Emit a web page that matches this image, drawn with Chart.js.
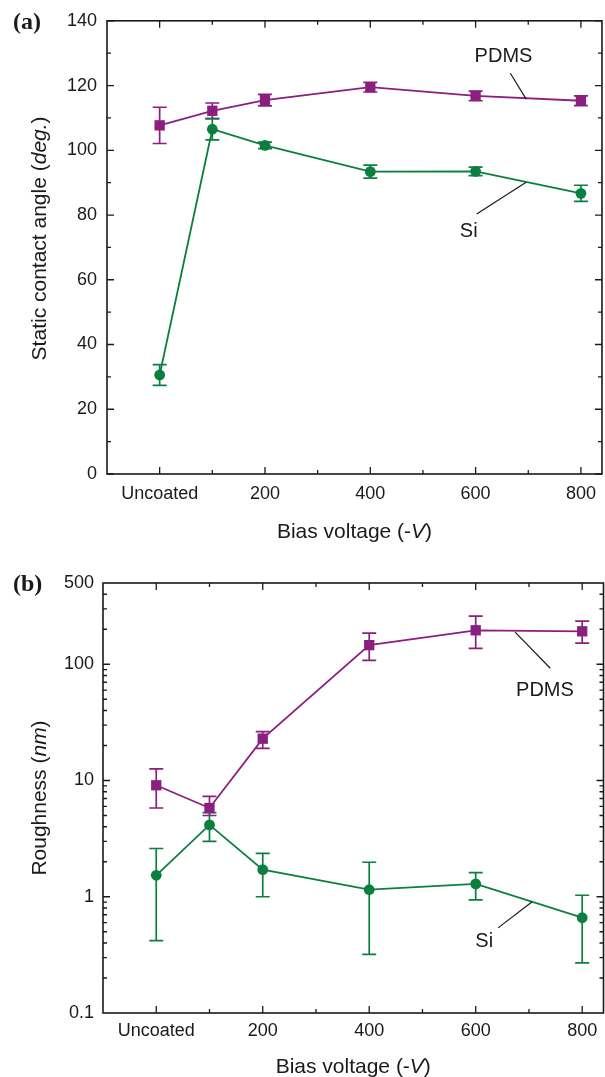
<!DOCTYPE html>
<html>
<head>
<meta charset="utf-8">
<script src="https://cdn.jsdelivr.net/npm/chart.js@4.4.1/dist/chart.umd.min.js"></script>
<style>
  html, body { margin: 0; padding: 0; background: #fff; }
  #wrap { position: relative; width: 605px; height: 1077px; overflow: hidden; }
  #wrap canvas { position: absolute; left: 0; }
</style>
</head>
<body>
<div id="wrap">
  <canvas id="chartA" width="605" height="545" style="top:0"></canvas>
  <canvas id="chartB" width="605" height="532" style="top:545px"></canvas>
</div>
<script>
// bias voltage (-V), 0 = uncoated
var biasVoltage = [0, 100, 200, 400, 600, 800];
var xTicks = [0, 200, 400, 600, 800];
var xMinor = [100, 300, 500, 700];

// static contact angle (deg.)
var anglePdms = [107.7, 112.2, 115.5, 119.5, 116.8, 115.3];
var anglePdmsErr = [5.6, 2.4, 1.8, 1.5, 1.5, 1.5];
var angleSi = [30.6, 106.5, 101.5, 93.4, 93.5, 86.7];
var angleSiErr = [3.2, 3.3, 1.0, 2.0, 1.3, 2.5];
var angleTicks = [0, 20, 40, 60, 80, 100, 120, 140];

// roughness (nm)
var roughPdms = [9.1, 5.8, 22.9, 146, 196, 192];
var roughPdmsLow = [5.8, 5.0, 18.9, 108, 137, 152];
var roughPdmsHigh = [12.6, 7.3, 26.3, 185, 259, 235];
var roughSi = [1.53, 4.15, 1.71, 1.15, 1.29, 0.66];
var roughSiLow = [0.42, 3.0, 1.0, 0.32, 0.94, 0.27];
var roughSiHigh = [2.6, 5.3, 2.36, 1.98, 1.61, 1.03];
var roughTicks = [0.1, 1, 10, 100, 500];

var purple = '#8B1F7F';
var green = '#0B7F40';
var ink = '#1a1a1a';
var sans = "'Liberation Sans', Arial, Helvetica, sans-serif";

function pts(ys) {
  return biasVoltage.map(function (x, i) { return { x: x, y: ys[i] }; });
}

function logMinor(lo, hi) {
  var out = [];
  for (var d = 0.1; d < hi; d *= 10) {
    for (var k = 2; k <= 9; k++) {
      var v = +(k * d).toPrecision(3);
      if (v > lo && v < hi) out.push(v);
    }
  }
  return out;
}

// draws a line of text made of plain / italic pieces, centred on (x, y)
function drawParts(ctx, parts, x, y, size, angle) {
  ctx.save();
  ctx.translate(x, y);
  if (angle) ctx.rotate(angle);
  ctx.textBaseline = 'middle';
  ctx.textAlign = 'left';
  ctx.fillStyle = ink;
  var total = 0;
  parts.forEach(function (p) {
    ctx.font = (p.italic ? 'italic ' : '') + size + 'px ' + sans;
    p.w = ctx.measureText(p.t).width;
    total += p.w;
  });
  var cx = -total / 2;
  parts.forEach(function (p) {
    ctx.font = (p.italic ? 'italic ' : '') + size + 'px ' + sans;
    ctx.fillText(p.t, cx, 0);
    cx += p.w;
  });
  ctx.restore();
}

// error bars, drawn under the markers
var errorBars = {
  id: 'errorBars',
  beforeDatasetsDraw: function (chart, args, opts) {
    var ctx = chart.ctx, xs = chart.scales.x, ys = chart.scales.y;
    (opts.bars || []).forEach(function (b) {
      ctx.save();
      ctx.strokeStyle = b.color;
      ctx.lineWidth = 1.7;
      biasVoltage.forEach(function (x, i) {
        var px = xs.getPixelForValue(x);
        var top = ys.getPixelForValue(b.high[i]);
        var bot = ys.getPixelForValue(b.low[i]);
        ctx.beginPath();
        ctx.moveTo(px, top); ctx.lineTo(px, bot);
        ctx.moveTo(px - 7, top); ctx.lineTo(px + 7, top);
        ctx.moveTo(px - 7, bot); ctx.lineTo(px + 7, bot);
        ctx.stroke();
      });
      ctx.restore();
    });
  }
};

// box, inward ticks, axis titles, panel letter and curve labels
var frame = {
  id: 'frame',
  afterDraw: function (chart, args, opts) {
    var ctx = chart.ctx, a = chart.chartArea;
    var xs = chart.scales.x, ys = chart.scales.y;
    ctx.save();
    ctx.strokeStyle = ink;
    ctx.lineWidth = 1.6;
    ctx.strokeRect(a.left, a.top, a.right - a.left, a.bottom - a.top);

    ctx.lineWidth = 1.3;
    ctx.beginPath();
    function xTick(v, len) {
      var p = xs.getPixelForValue(v);
      ctx.moveTo(p, a.bottom); ctx.lineTo(p, a.bottom - len);
      ctx.moveTo(p, a.top); ctx.lineTo(p, a.top + len);
    }
    function yTick(v, len) {
      var p = ys.getPixelForValue(v);
      ctx.moveTo(a.left, p); ctx.lineTo(a.left + len, p);
      ctx.moveTo(a.right, p); ctx.lineTo(a.right - len, p);
    }
    xTicks.forEach(function (v) { xTick(v, 7); });
    xMinor.forEach(function (v) { xTick(v, 4); });
    opts.yMajor.forEach(function (v) { yTick(v, 7); });
    opts.yMinor.forEach(function (v) { yTick(v, 4); });
    ctx.stroke();

    drawParts(ctx, opts.xTitle, (a.left + a.right) / 2, a.bottom + opts.xTitleGap, 21, 0);
    drawParts(ctx, opts.yTitle, 40, (a.top + a.bottom) / 2 + opts.yTitleShift, 21, -Math.PI / 2);

    ctx.fillStyle = ink;
    ctx.font = 'bold 24px "Liberation Serif", "Times New Roman", serif';
    ctx.textAlign = 'left';
    ctx.textBaseline = 'middle';
    ctx.fillText(opts.panel, 13, opts.panelY);

    ctx.font = '20px ' + sans;
    ctx.textAlign = 'center';
    ctx.lineWidth = 1.2;
    opts.notes.forEach(function (n) {
      ctx.fillText(n.text, xs.getPixelForValue(n.at[0]), ys.getPixelForValue(n.at[1]));
      ctx.beginPath();
      ctx.moveTo(xs.getPixelForValue(n.from[0]), ys.getPixelForValue(n.from[1]));
      ctx.lineTo(xs.getPixelForValue(n.to[0]), ys.getPixelForValue(n.to[1]));
      ctx.stroke();
    });
    ctx.restore();
  }
};

function series(label, ys, color, style, r) {
  return {
    label: label,
    data: pts(ys),
    borderColor: color,
    backgroundColor: color,
    borderWidth: 1.8,
    pointStyle: style,
    pointRadius: r,
    pointBorderWidth: 0,
    tension: 0,
    clip: false
  };
}

function xScale(pad, height) {
  return {
    type: 'linear',
    min: -100,
    max: 840,
    afterBuildTicks: function (s) { s.ticks = xTicks.map(function (v) { return { value: v }; }); },
    afterFit: function (s) { s.height = height; },
    grid: { display: false, drawTicks: false },
    border: { display: false },
    ticks: {
      autoSkip: false,
      maxRotation: 0,
      padding: pad,
      color: ink,
      font: { family: sans, size: 18 },
      callback: function (v) { return v === 0 ? 'Uncoated' : String(v); }
    }
  };
}

var ctx = document.getElementById('chartA').getContext('2d');
var chartA = new Chart(ctx, {
  type: 'line',
  data: {
    datasets: [
      series('PDMS', anglePdms, purple, 'rect', 7.3),
      series('Si', angleSi, green, 'circle', 5.4)
    ]
  },
  plugins: [errorBars, frame],
  options: {
    responsive: false,
    animation: false,
    layout: { autoPadding: false, padding: { top: 17, right: 1.5, left: 0, bottom: 0 } },
    plugins: {
      legend: { display: false },
      tooltip: { enabled: false },
      errorBars: {
        bars: [
          { color: purple, low: anglePdms.map(function (v, i) { return v - anglePdmsErr[i]; }), high: anglePdms.map(function (v, i) { return v + anglePdmsErr[i]; }) },
          { color: green, low: angleSi.map(function (v, i) { return v - angleSiErr[i]; }), high: angleSi.map(function (v, i) { return v + angleSiErr[i]; }) }
        ]
      },
      frame: {
        yMajor: angleTicks,
        yMinor: [10, 30, 50, 70, 90, 110, 130],
        xTitle: [{ t: 'Bias voltage (-' }, { t: 'V', italic: true }, { t: ')' }],
        xTitleGap: 58,
        yTitle: [{ t: 'Static contact angle (' }, { t: 'deg.', italic: true }, { t: ')' }],
        yTitleShift: -9,
        panel: '(a)',
        panelY: 23,
        notes: [
          { text: 'PDMS', at: [653, 129], from: [666, 123.8], to: [696, 115.8] },
          { text: 'Si', at: [587, 75], from: [602, 80.3], to: [696, 90.1] }
        ]
      }
    },
    scales: {
      x: xScale(9, 71),
      y: {
        type: 'linear',
        min: 0,
        max: 140,
        afterBuildTicks: function (s) { s.ticks = angleTicks.map(function (v) { return { value: v }; }); },
        afterFit: function (s) { s.width = 107; },
        grid: { display: false, drawTicks: false },
        border: { display: false },
        ticks: { padding: 10, color: ink, font: { family: sans, size: 18 } }
      }
    }
  }
});

var ctx = document.getElementById('chartB').getContext('2d');
var chartB = new Chart(ctx, {
  type: 'line',
  data: {
    datasets: [
      series('PDMS', roughPdms, purple, 'rect', 7.3),
      series('Si', roughSi, green, 'circle', 5.4)
    ]
  },
  plugins: [errorBars, frame],
  options: {
    responsive: false,
    animation: false,
    layout: { autoPadding: false, padding: { top: 38, right: 1.5, left: 0, bottom: 0 } },
    plugins: {
      legend: { display: false },
      tooltip: { enabled: false },
      errorBars: {
        bars: [
          { color: purple, low: roughPdmsLow, high: roughPdmsHigh },
          { color: green, low: roughSiLow, high: roughSiHigh }
        ]
      },
      frame: {
        yMajor: [1, 10, 100],
        yMinor: logMinor(0.1, 500),
        xTitle: [{ t: 'Bias voltage (-' }, { t: 'V', italic: true }, { t: ')' }],
        xTitleGap: 54,
        yTitle: [{ t: 'Roughness (' }, { t: 'nm', italic: true }, { t: ')' }],
        yTitleShift: 0,
        panel: '(b)',
        panelY: 40,
        notes: [
          { text: 'PDMS', at: [730, 59.7], from: [674, 189], to: [740, 92.4] },
          { text: 'Si', at: [616, 0.41], from: [642, 0.54], to: [706, 0.905] }
        ]
      }
    },
    scales: {
      x: xScale(7, 64),
      y: {
        type: 'logarithmic',
        min: 0.1,
        max: 500,
        afterBuildTicks: function (s) { s.ticks = roughTicks.map(function (v) { return { value: v }; }); },
        afterFit: function (s) { s.width = 103; },
        grid: { display: false, drawTicks: false },
        border: { display: false },
        ticks: {
          padding: 9,
          color: ink,
          font: { family: sans, size: 18 },
          callback: function (v) { return String(v); }
        }
      }
    }
  }
});
</script>
</body>
</html>
